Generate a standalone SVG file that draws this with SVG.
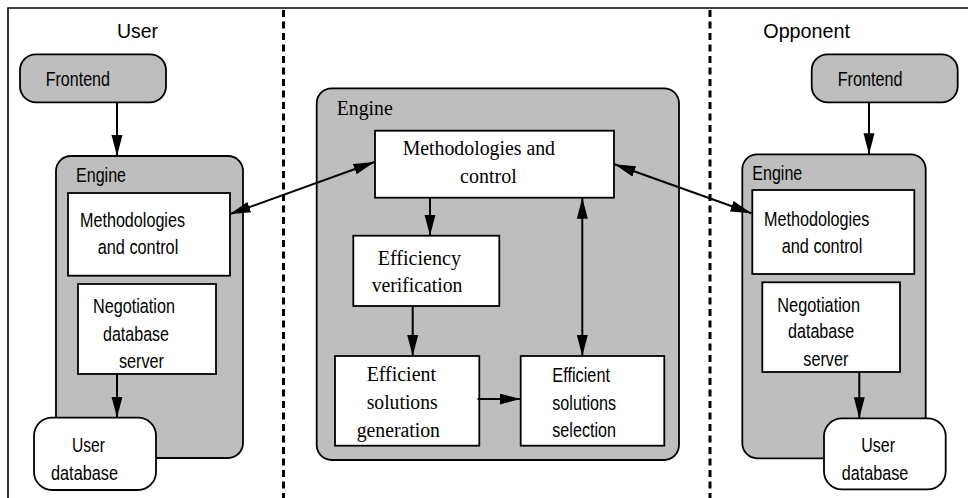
<svg xmlns="http://www.w3.org/2000/svg" width="968" height="498" viewBox="0 0 968 498">
<defs>
<marker id="ah" markerUnits="userSpaceOnUse" markerWidth="22" markerHeight="12" refX="21" refY="5.5" orient="auto-start-reverse">
<path d="M0,0 L21,5.5 L0,11 Z" fill="#000"/>
</marker>
<style>
.sans{font-family:"Liberation Sans",Arial,sans-serif;font-size:20.5px;fill:#000}
.serif{font-family:"Liberation Serif","Times New Roman",serif;font-size:20px;fill:#000}
.gray{fill:#bebebe;stroke:#000;stroke-width:1.8}
.white{fill:#fff;stroke:#000;stroke-width:1.8}
.conn{stroke:#000;stroke-width:2;fill:none}
.dash{stroke:#000;stroke-width:3;stroke-dasharray:7 4.5;fill:none}
</style>
</defs>
<rect width="968" height="498" fill="#fff"/>
<g id="frame">
<path d="M8,498 V8 H968" fill="none" stroke="#000" stroke-width="1.6"/>
<line class="dash" x1="283.5" y1="10" x2="283.5" y2="498"/>
<line class="dash" x1="710" y1="10" x2="710" y2="498"/>
<text class="sans" x="117" y="37.5" textLength="41" lengthAdjust="spacingAndGlyphs">User</text>
<text class="sans" x="763.3" y="37.5" textLength="86.7" lengthAdjust="spacingAndGlyphs">Opponent</text>
</g>

<g id="user-frontend">
<rect class="gray" x="20" y="54.3" width="146" height="48" rx="16"/>
<text class="sans" x="45.7" y="86" textLength="64.3" lengthAdjust="spacingAndGlyphs">Frontend</text>
</g>
<g id="user-engine">
<rect class="gray" x="56" y="156" width="187" height="302" rx="15"/>
<text class="sans" x="76" y="181.5" textLength="50" lengthAdjust="spacingAndGlyphs">Engine</text>
</g>
<g id="user-methodologies">
<rect class="white" x="68" y="193" width="162" height="82.7"/>
<text class="sans" x="80" y="226.7" textLength="105" lengthAdjust="spacingAndGlyphs">Methodologies</text>
<text class="sans" x="97.7" y="254" textLength="80.6" lengthAdjust="spacingAndGlyphs">and control</text>
</g>
<g id="user-negotiation">
<rect class="white" x="78" y="284" width="138" height="90"/>
<text class="sans" x="93" y="313.3" textLength="82" lengthAdjust="spacingAndGlyphs">Negotiation</text>
<text class="sans" x="103" y="340.7" textLength="66" lengthAdjust="spacingAndGlyphs">database</text>
<text class="sans" x="119" y="368.3" textLength="45" lengthAdjust="spacingAndGlyphs">server</text>
</g>
<g id="user-database">
<rect class="white" x="34" y="417.7" width="122" height="72.3" rx="18"/>
<text class="sans" x="72" y="452.3" textLength="33" lengthAdjust="spacingAndGlyphs">User</text>
<text class="sans" x="51" y="480" textLength="67" lengthAdjust="spacingAndGlyphs">database</text>
</g>

<g id="center-engine">
<rect class="gray" x="316.7" y="88.3" width="362.3" height="371.7" rx="15"/>
<text class="serif" x="336.7" y="115" textLength="56" lengthAdjust="spacingAndGlyphs">Engine</text>
</g>
<g id="center-methodologies">
<rect class="white" x="375" y="130.7" width="239" height="67"/>
<text class="serif" x="402.7" y="155" textLength="152.3" lengthAdjust="spacingAndGlyphs">Methodologies and</text>
<text class="serif" x="460" y="183.3" textLength="56.7" lengthAdjust="spacingAndGlyphs">control</text>
</g>
<g id="efficiency-verification">
<rect class="white" x="353.3" y="235.7" width="146" height="70.3"/>
<text class="serif" x="377.7" y="265" textLength="83.3" lengthAdjust="spacingAndGlyphs">Efficiency</text>
<text class="serif" x="371.7" y="291.7" textLength="90.7" lengthAdjust="spacingAndGlyphs">verification</text>
</g>
<g id="solutions-generation">
<rect class="white" x="335" y="356" width="144.3" height="89.7"/>
<text class="serif" x="366.7" y="380.7" textLength="69.3" lengthAdjust="spacingAndGlyphs">Efficient</text>
<text class="serif" x="366.7" y="409" textLength="71" lengthAdjust="spacingAndGlyphs">solutions</text>
<text class="serif" x="356.7" y="436.7" textLength="83.3" lengthAdjust="spacingAndGlyphs">generation</text>
</g>
<g id="solutions-selection">
<rect class="white" x="520.7" y="356" width="143.6" height="89.7"/>
<text class="sans" x="552.3" y="381.7" textLength="57.7" lengthAdjust="spacingAndGlyphs">Efficient</text>
<text class="sans" x="552.3" y="410" textLength="63.7" lengthAdjust="spacingAndGlyphs">solutions</text>
<text class="sans" x="552.3" y="437.3" textLength="63.7" lengthAdjust="spacingAndGlyphs">selection</text>
</g>

<g id="opponent-frontend">
<rect class="gray" x="811.7" y="54.3" width="146" height="48" rx="16"/>
<text class="sans" x="837.7" y="85.7" textLength="64.7" lengthAdjust="spacingAndGlyphs">Frontend</text>
</g>
<g id="opponent-engine">
<rect class="gray" x="742.3" y="154.3" width="183.4" height="304" rx="15"/>
<text class="sans" x="752.3" y="180" textLength="50" lengthAdjust="spacingAndGlyphs">Engine</text>
</g>
<g id="opponent-methodologies">
<rect class="white" x="752.3" y="190" width="162" height="84"/>
<text class="sans" x="764" y="225.7" textLength="105.3" lengthAdjust="spacingAndGlyphs">Methodologies</text>
<text class="sans" x="781.7" y="252.7" textLength="80.6" lengthAdjust="spacingAndGlyphs">and control</text>
</g>
<g id="opponent-negotiation">
<rect class="white" x="762.3" y="282.3" width="137.7" height="89.7"/>
<text class="sans" x="777.3" y="311.7" textLength="82.7" lengthAdjust="spacingAndGlyphs">Negotiation</text>
<text class="sans" x="788" y="338.3" textLength="66.3" lengthAdjust="spacingAndGlyphs">database</text>
<text class="sans" x="803.3" y="366" textLength="45" lengthAdjust="spacingAndGlyphs">server</text>
</g>
<g id="opponent-database">
<rect class="white" x="824" y="418.3" width="121.7" height="71" rx="18"/>
<text class="sans" x="861.3" y="452.3" textLength="33.7" lengthAdjust="spacingAndGlyphs">User</text>
<text class="sans" x="841.7" y="480" textLength="66.6" lengthAdjust="spacingAndGlyphs">database</text>
</g>

<g id="connectors">
<line class="conn" x1="117" y1="102.3" x2="117" y2="156" marker-end="url(#ah)"/>
<line class="conn" x1="117" y1="373" x2="117" y2="417.7" marker-end="url(#ah)"/>
<line class="conn" x1="869" y1="102.3" x2="869" y2="154.3" marker-end="url(#ah)"/>
<line class="conn" x1="859.3" y1="371" x2="859.3" y2="418.3" marker-end="url(#ah)"/>
<line class="conn" x1="229.5" y1="214.3" x2="374.5" y2="162" marker-start="url(#ah)" marker-end="url(#ah)"/>
<line class="conn" x1="614.5" y1="164.3" x2="751.5" y2="213.3" marker-start="url(#ah)" marker-end="url(#ah)"/>
<line class="conn" x1="430" y1="197.7" x2="430" y2="235.7" marker-end="url(#ah)"/>
<line class="conn" x1="412.7" y1="306" x2="412.7" y2="356" marker-end="url(#ah)"/>
<line class="conn" x1="477.5" y1="399" x2="520.7" y2="399" marker-end="url(#ah)"/>
<line class="conn" x1="582.3" y1="197.7" x2="582.3" y2="356" marker-start="url(#ah)" marker-end="url(#ah)"/>
</g>
</svg>
